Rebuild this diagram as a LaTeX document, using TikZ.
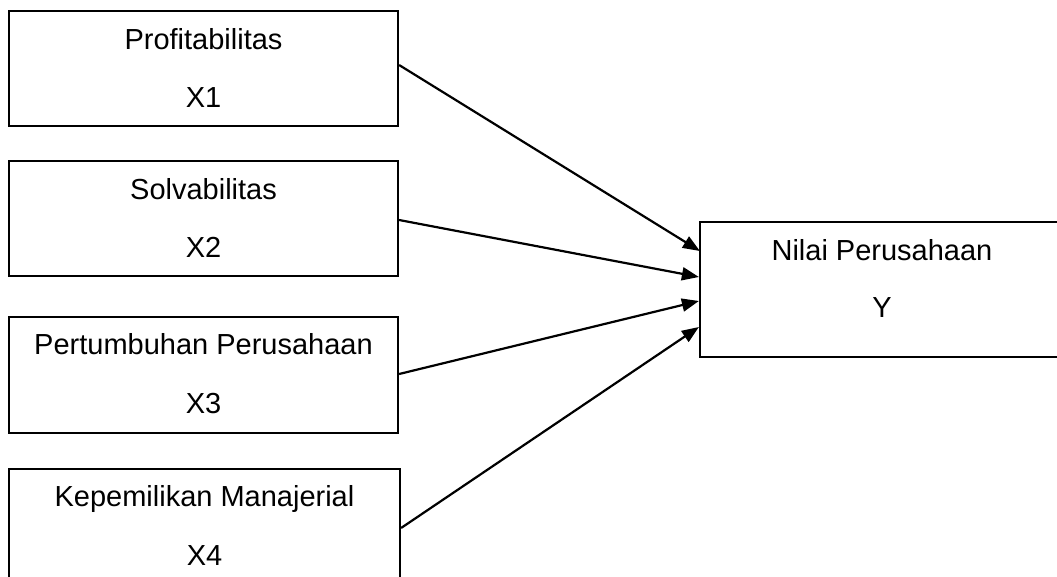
\documentclass[tikz,border=0pt]{standalone}
\usepackage{fontspec}
\setmainfont{Liberation Sans}
\usetikzlibrary{arrows.meta}
\begin{document}
\begin{tikzpicture}[x=1pt,y=-1pt,
  box/.style={draw=black,line width=2.2pt,inner sep=0pt,minimum height=115pt},
  txt/.style={anchor=base,inner sep=0pt,font=\fontsize{29}{35}\selectfont},
  conn/.style={line width=2.2pt,-{Triangle[length=17pt,width=13pt]}}]
\useasboundingbox (0,0) rectangle (1057,576);
\fill[white] (0,0) rectangle (1057,576);
% left boxes
\node[box,minimum width=389pt] (b1) at (203.5,68.5) {};
\node[box,minimum width=389pt] (b2) at (203.5,218.5) {};
\node[box,minimum width=389pt,minimum height=116pt] (b3) at (203.5,375) {};
\node[box,minimum width=391pt] (b4) at (204.5,526.5) {};
% right box
\node[box,minimum width=364pt,minimum height=135pt] (y) at (882,289.5) {};
% texts
\node[txt] (t1a) at (203.5,49) {Profitabilitas};
\node[txt] (t1b) at (203.5,107) {X1};
\node[txt] (t2a) at (203.5,199) {Solvabilitas};
\node[txt] (t2b) at (203.5,257) {X2};
\node[txt] (t3a) at (203.5,354) {Pertumbuhan Perusahaan};
\node[txt] (t3b) at (203.5,413) {X3};
\node[txt] (t4a) at (204.5,506) {Kepemilikan Manajerial};
\node[txt] (t4b) at (204.5,565) {X4};
\node[txt] (tya) at (882,260) {Nilai Perusahaan};
\node[txt] (tyb) at (882,317) {Y};
% connectors
\draw[conn] ([yshift=3.5pt]b1.east) -- ([xshift=1pt,yshift=38.5pt]y.west);
\draw[conn] ([yshift=-1.5pt]b2.east) -- ([yshift=12.5pt]y.west);
\draw[conn] ([yshift=1pt]b3.east) -- ([yshift=-11.5pt]y.west);
\draw[conn] ([yshift=-1.5pt]b4.east) -- ([yshift=-37.5pt]y.west);
\end{tikzpicture}
\end{document}
